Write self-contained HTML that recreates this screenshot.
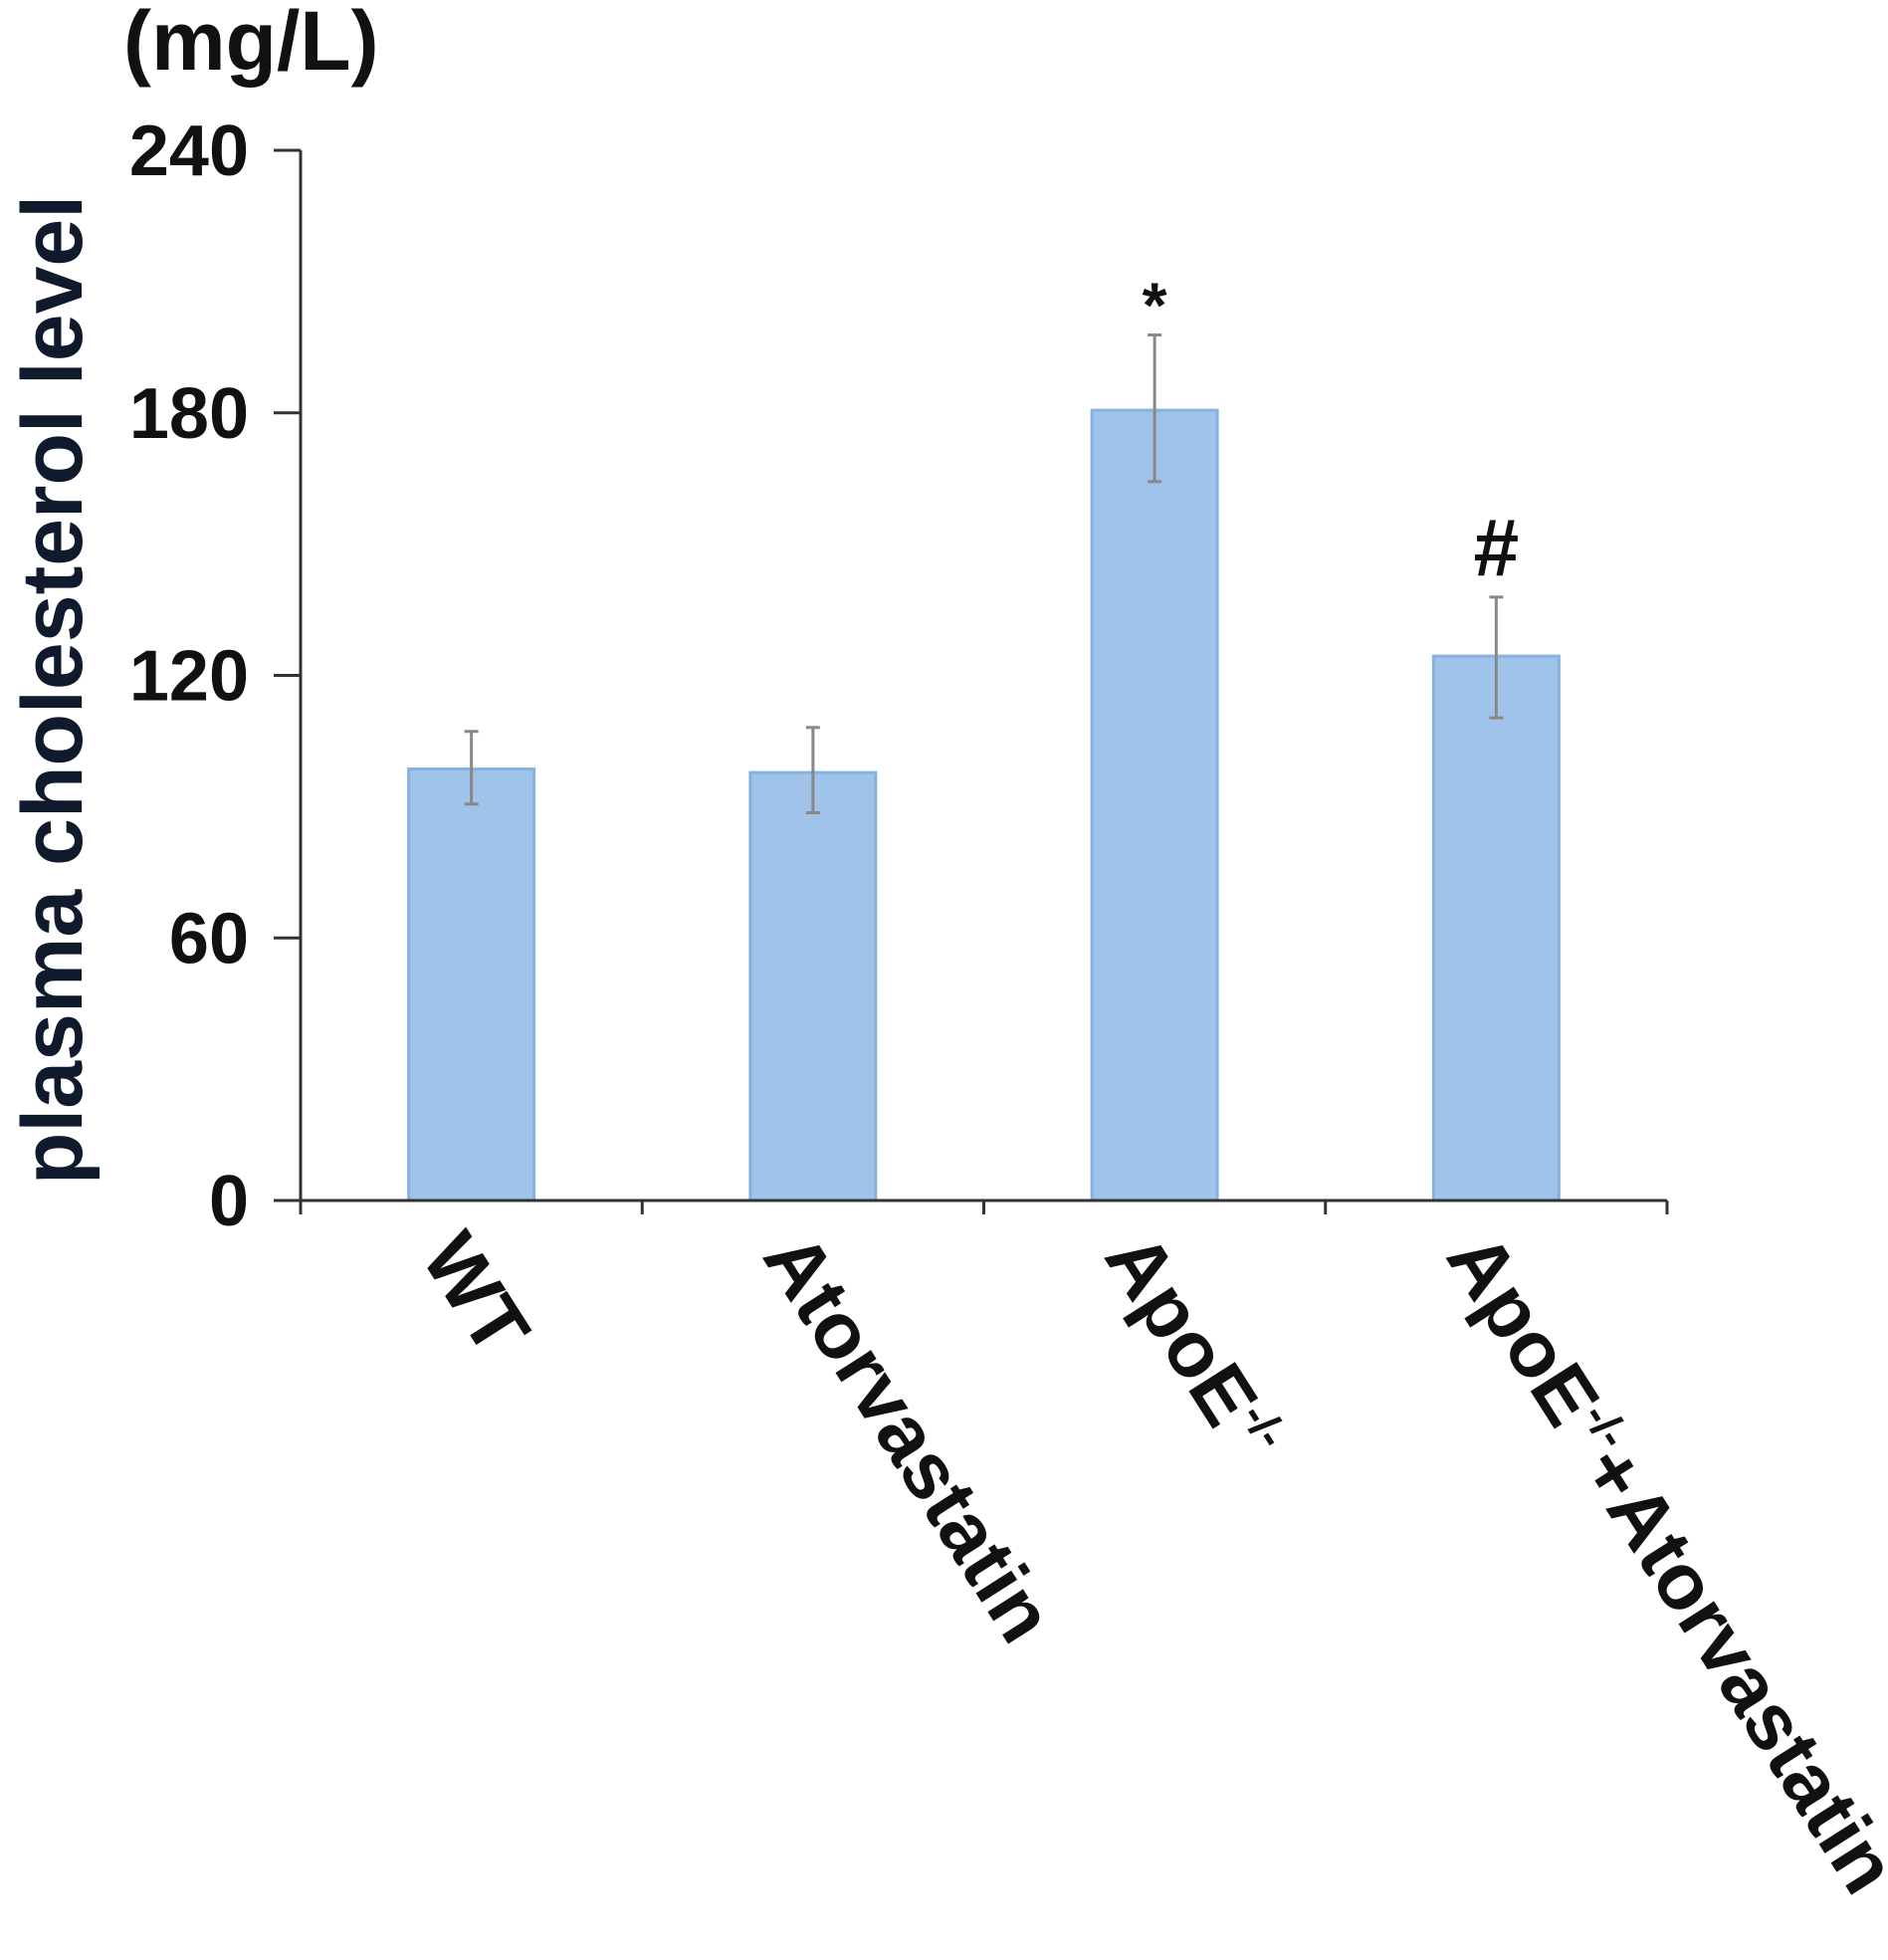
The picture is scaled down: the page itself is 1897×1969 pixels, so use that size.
<!DOCTYPE html>
<html><head><meta charset="utf-8"><style>
html,body{margin:0;padding:0;background:#fff;}
svg{display:block;font-family:"Liberation Sans",Arial,sans-serif;font-weight:bold;}
</style></head><body>
<svg id="chart" width="1897" height="1969" viewBox="0 0 1897 1969"></svg>
<script>
const categories = ["WT","Atorvastatin","ApoE-/-","ApoE-/-+Atorvastatin"];
const values = [98.6, 97.8, 180.6, 124.4];
const errUpper = [107.2, 108.1, 197.8, 137.9];
const errLower = [90.6, 88.6, 164.3, 110.3];
const marks = ["", "", "*", "#"];
const yTicks = [0, 60, 120, 180, 240];

const NS = "http://www.w3.org/2000/svg";
const svg = document.getElementById("chart");
const X0 = 302, X1 = 1675, Y0 = 1206, Y1 = 151, YMAX = 240;
const catW = (X1 - X0) / categories.length;
const barW = catW * 0.367;
function y(v){ return Y0 - (v / YMAX) * (Y0 - Y1); }
function xc(i){ return X0 + catW * (i + 0.5); }
function mk(tag, attrs, parent){
  const e = document.createElementNS(NS, tag);
  for (const k in attrs) e.setAttribute(k, attrs[k]);
  (parent || svg).appendChild(e);
  return e;
}

// unit label
const unit = mk("text", {x:124, y:70, "font-size":84, fill:"#111"});


unit.textContent = "(mg/L)";

// y-axis title
const yt = mk("text", {x:0, y:0, "font-size":86, fill:"#0f1a2c", "text-anchor":"middle", transform:"translate(82,693) rotate(-90)"});


yt.textContent = "plasma cholesterol level";

// bars
categories.forEach((c, i) => {
  const r = mk("rect", {x: xc(i) - barW/2, y: y(values[i]), width: barW, height: Y0 - y(values[i]), fill:"#9fc3e9", stroke:"#86b2e0", "stroke-width":3});
  
  
  const g = mk("g", {stroke:"#888", "stroke-width":3});
  
  
  mk("line", {x1: xc(i), x2: xc(i), y1: y(errUpper[i]), y2: y(errLower[i])}, g);
  mk("line", {x1: xc(i)-7, x2: xc(i)+7, y1: y(errUpper[i]), y2: y(errUpper[i])}, g);
  mk("line", {x1: xc(i)-7, x2: xc(i)+7, y1: y(errLower[i]), y2: y(errLower[i])}, g);
  if (marks[i]) {
    const m = mk("text", {x: xc(i), y: y(errUpper[i]) - (marks[i]==="*" ? 8 : 22), "font-size": marks[i]==="*" ? 64 : 82, "text-anchor":"middle", fill:"#111"});
    
    
    m.textContent = marks[i];
  }
  const lb = mk("text", {x:0, y:0, "font-size":80, fill:"#111", transform:`translate(${xc(i)-52},1262) rotate(57.5)`});
  
  
  if (c.indexOf("-/-") >= 0) {
    const parts = c.split("-/-");
    const t1 = mk("tspan", {}, lb); t1.textContent = parts[0];
    const t2 = mk("tspan", {"font-size":46, dy:-30}, lb); t2.textContent = "-/-";
    if (parts[1]) { const t3 = mk("tspan", {dy:30}, lb); t3.textContent = parts[1]; }
  } else lb.textContent = c;
});

// axes
const ax = mk("g", {stroke:"#333", "stroke-width":3, fill:"none"});


mk("line", {x1:X0, x2:X0, y1:Y1, y2:Y0}, ax);
mk("line", {x1:X0-2, x2:X1, y1:Y0, y2:Y0}, ax);
for (let i = 0; i <= categories.length; i++) {
  mk("line", {x1: X0 + catW*i, x2: X0 + catW*i, y1: Y0, y2: Y0 + 14}, ax);
}
yTicks.forEach(t => {
  mk("line", {x1: X0-27, x2: X0, y1: y(t), y2: y(t)}, ax);
  const tl = mk("text", {x: 250, y: y(t) + 25, "font-size":72, "text-anchor":"end", fill:"#111"});
  
  
  tl.textContent = t;
});
</script>
</body></html>
